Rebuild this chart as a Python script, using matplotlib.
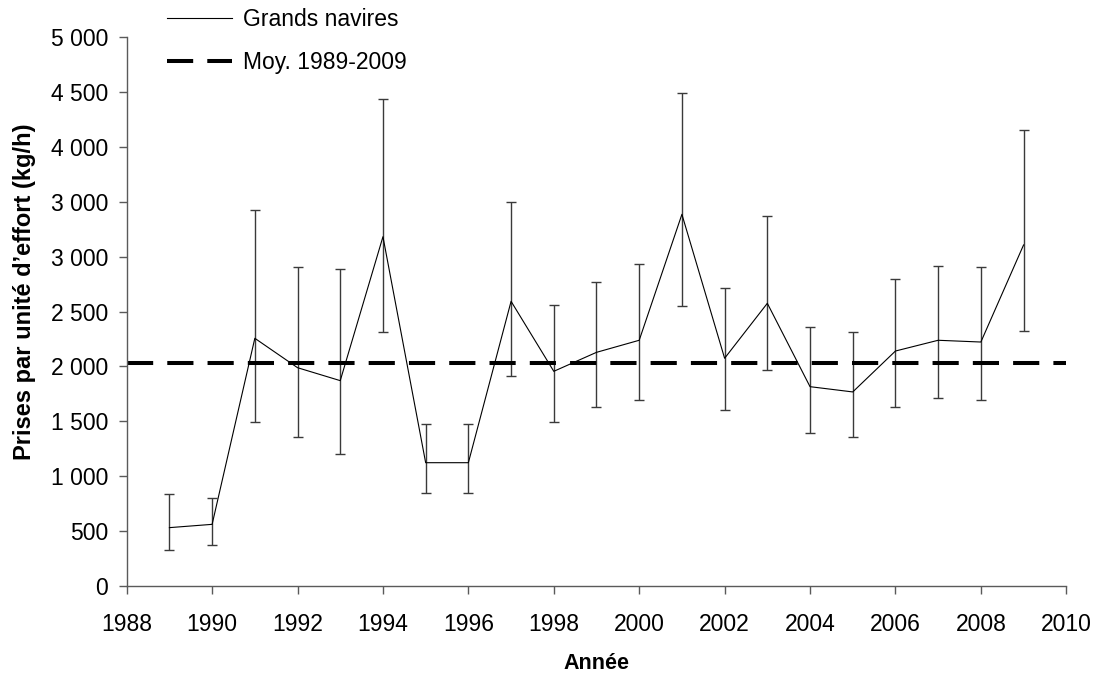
import numpy as np
import matplotlib.pyplot as plt

plt.rcParams['font.family'] = ['Liberation Sans', 'DejaVu Sans']

# Prises par unite d'effort, grands navires (kg/h)
years = np.arange(1989, 2010)
cpue = np.array([530, 560, 2256, 1988, 1870, 3182, 1122, 1122, 2593, 1955, 2128,
                 2238, 3386, 2074, 2575, 1815, 1767, 2140, 2238, 2222, 3107])
upper = np.array([834, 798, 3426, 2903, 2885, 4440, 1475, 1475, 3496, 2562, 2767,
                  2936, 4492, 2715, 3374, 2356, 2311, 2799, 2918, 2903, 4155])
lower = np.array([324, 372, 1493, 1359, 1204, 2311, 849, 849, 1915, 1493, 1630,
                  1697, 2548, 1600, 1970, 1393, 1359, 1630, 1715, 1697, 2325])

mean_value = 2034
mean_span = [1988, 2010]

x_ticks = list(range(1988, 2011, 2))
y_ticks = [0, 500, 1000, 1500, 2000, 2500, 3000, 3500, 4000, 4500, 5000]
y_tick_labels = ["0", "500", "1 000", "1 500", "2 000", "2 500", "3 000",
                 "3 000", "4 000", "4 500", "5 000"]

fig = plt.figure(figsize=(10.97, 6.73), dpi=100)
ax = fig.add_axes([0.1155, 0.1296, 0.972 - 0.1155, 0.9446 - 0.1296])

axis_grey = "#5a5a5a"

ax.errorbar(years, cpue, yerr=[cpue - lower, upper - cpue], fmt="none",
            ecolor="#3a3a3a", elinewidth=1.0, capsize=3.6, capthick=1.0)
line, = ax.plot(years, cpue, color="black", lw=0.8, label="Grands navires")
mean_line, = ax.plot(mean_span, [mean_value, mean_value], color="black", lw=2.9,
                     linestyle=(0, (6.5, 3.5)), label="Moy. 1989-2009")

ax.set_xlim(1988, 2010)
ax.set_ylim(0, 5000)
ax.set_xticks(x_ticks)
ax.set_yticks(y_ticks)
ax.set_yticklabels(y_tick_labels)

for side in ["top", "right"]:
    ax.spines[side].set_visible(False)
for side in ["left", "bottom"]:
    ax.spines[side].set_color(axis_grey)
    ax.spines[side].set_linewidth(1.0)

ax.tick_params(axis="both", direction="out", length=5.8, width=1.0,
               color=axis_grey, labelsize=16.5, labelcolor="black")
ax.tick_params(axis="x", pad=14)
ax.tick_params(axis="y", pad=7.5)

ax.set_xlabel("Année", fontsize=15.5, fontweight="bold", labelpad=12)
ax.set_ylabel("Prises par unité d\u2019effort (kg/h)", fontsize=17,
              fontweight="bold", labelpad=11)
ax.yaxis.label.set_y(0.536)

fig.legend(handles=[line, mean_line], loc="upper left",
           bbox_to_anchor=(167 / 1097, 1 - 8.5 / 673), frameon=False,
           fontsize=16.5, handlelength=2.84, handletextpad=0.48,
           borderpad=0, borderaxespad=0, labelspacing=0.83)

fig.savefig("out.png", dpi=100)
